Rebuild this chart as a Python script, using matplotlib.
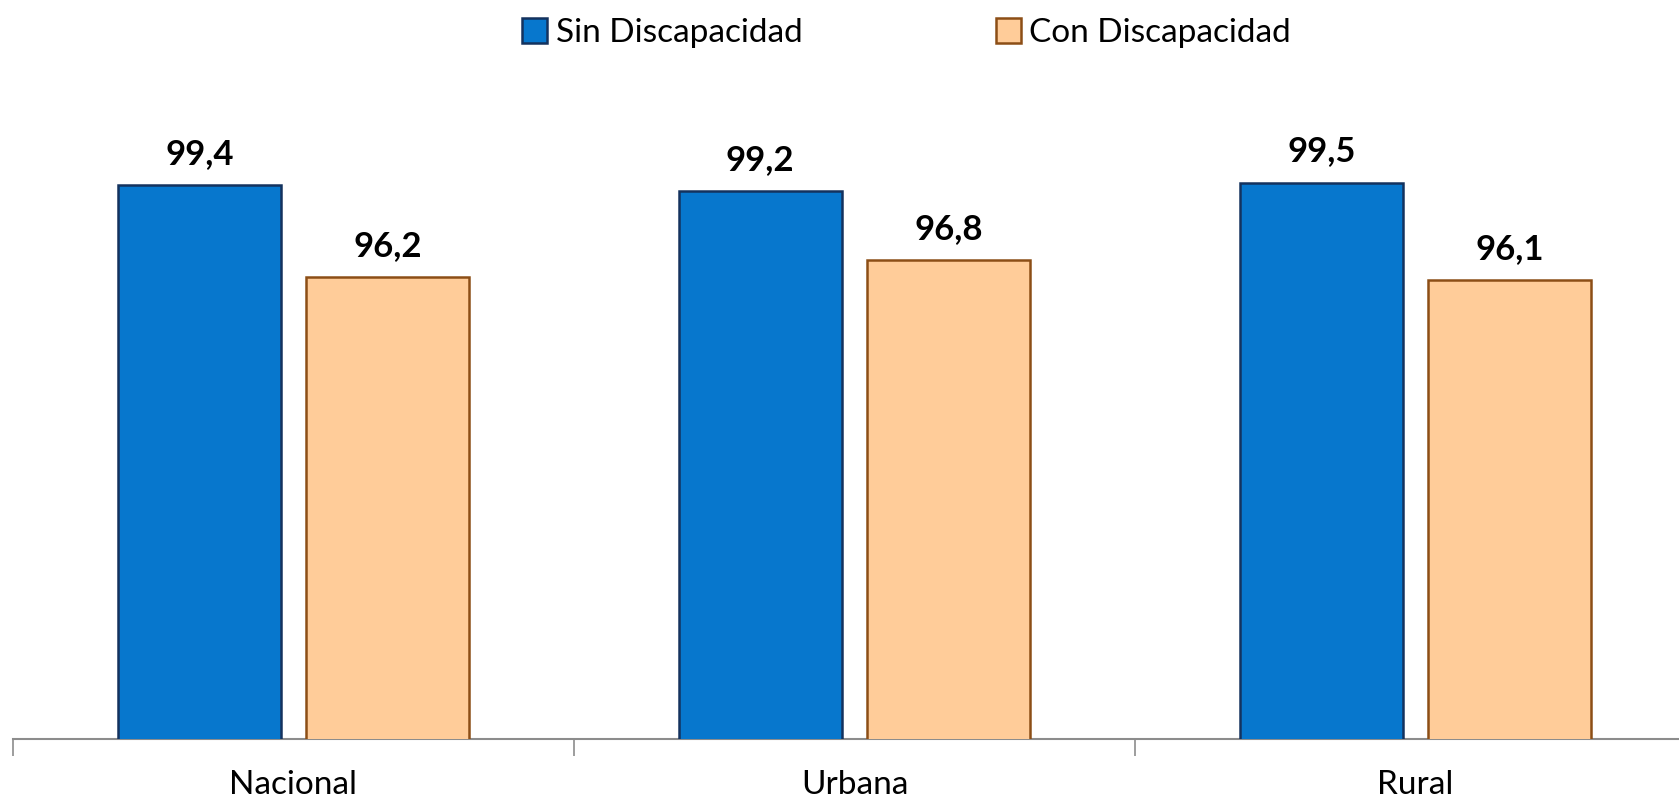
import numpy as np
import matplotlib
matplotlib.use('Agg')
import matplotlib.pyplot as plt

categorias = ['Nacional', 'Urbana', 'Rural']
sin_disc = [99.4, 99.2, 99.5]
con_disc = [96.2, 96.8, 96.1]

plt.rcParams['font.family'] = ['Lato', 'DejaVu Sans']

fig = plt.figure(figsize=(16.79, 8.02), dpi=100)
ax = fig.add_axes([13 / 1679, 0.0786, 1683 / 1679, 0.717])

x = np.arange(len(categorias))
ancho = 0.29
off = 0.168

b1 = ax.bar(x - off, sin_disc, ancho, color='#0777CD', edgecolor='#14325E',
            linewidth=1.8, label='Sin Discapacidad', zorder=3)
b2 = ax.bar(x + off, con_disc, ancho, color='#FFCC99', edgecolor='#8C4E16',
            linewidth=1.8, label='Con Discapacidad', zorder=3)

for barras, vals in [(b1, sin_disc), (b2, con_disc)]:
    for b, v in zip(barras, vals):
        ax.annotate(f'{v:.1f}'.replace('.', ','),
                    (b.get_x() + b.get_width() / 2, v),
                    xytext=(0, 11), textcoords='offset points',
                    ha='center', va='bottom', fontsize=25, fontweight='bold')

ax.set_ylim(80.15, 100.15)
ax.set_xlim(-0.5, 2.5)

for s in ['top', 'right', 'left']:
    ax.spines[s].set_visible(False)
ax.spines['bottom'].set_color('#8C8C8C')
ax.spines['bottom'].set_linewidth(1.5)
ax.set_yticks([])

ax.set_xticks([-0.5, 0.5, 1.5, 2.5])
ax.set_xticklabels([])
ax.tick_params(axis='x', which='major', length=12, width=1.2, color='#8C8C8C')
ax.set_xticks(x, minor=True)
ax.set_xticklabels(categorias, minor=True, fontsize=24)
ax.tick_params(axis='x', which='minor', length=0, pad=22)

fig.legend(handles=[b1, b2], loc='upper center', bbox_to_anchor=(0.54, 1.015),
           ncol=2, frameon=False, fontsize=24, handlelength=0.75, handleheight=0.75,
           handletextpad=0.25, columnspacing=5.8)

fig.savefig('out.png', dpi=100)
